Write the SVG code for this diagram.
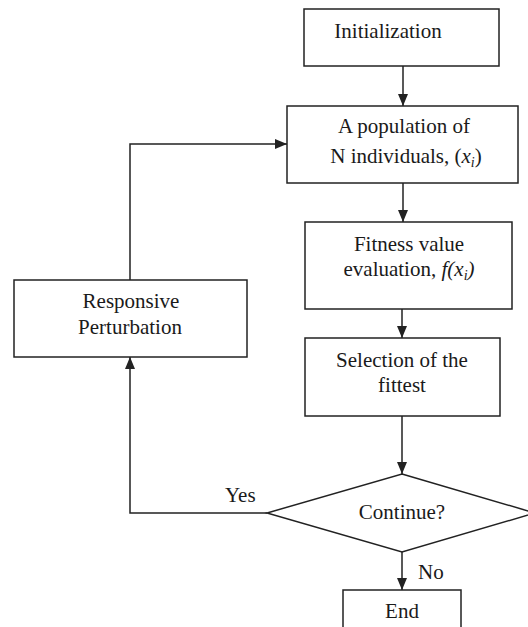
<svg xmlns="http://www.w3.org/2000/svg" width="528" height="627" viewBox="0 0 528 627">
<style>
.box{fill:#fff;stroke:#222;stroke-width:1.5}
.ln{fill:none;stroke:#222;stroke-width:1.5}
text{font-family:"Liberation Serif","Times New Roman",serif;font-size:21px;fill:#1a1a1a}
.c{text-anchor:middle}
.it{font-style:italic}
</style>
<defs>
<marker id="ah" markerUnits="userSpaceOnUse" markerWidth="12" markerHeight="10" refX="12" refY="5" orient="auto">
<path d="M0,0 L12,5 L0,10 z" fill="#222"/>
</marker>
</defs>
<g id="connectors">
<line class="ln" x1="403" y1="66" x2="403" y2="106" marker-end="url(#ah)"/>
<line class="ln" x1="403" y1="183" x2="403" y2="222" marker-end="url(#ah)"/>
<line class="ln" x1="402" y1="305" x2="402" y2="338" marker-end="url(#ah)"/>
<line class="ln" x1="402" y1="416" x2="402" y2="474" marker-end="url(#ah)"/>
<line class="ln" x1="402" y1="552" x2="402" y2="590" marker-end="url(#ah)"/>
<polyline class="ln" points="267,513 130,513 130,357" marker-end="url(#ah)"/>
<polyline class="ln" points="130,280 130,144 287,144" marker-end="url(#ah)"/>
<text x="225" y="502">Yes</text>
<text x="418" y="579">No</text>
</g>
<g id="init">
<rect class="box" x="304" y="9" width="195" height="57"/>
<text x="388" y="38" class="c">Initialization</text>
</g>
<g id="population">
<rect class="box" x="287" y="106" width="231" height="77"/>
<text x="404" y="133" class="c">A population of</text>
<text x="406" y="163" class="c">N individuals, (<tspan class="it">x</tspan><tspan class="it" font-size="14" dy="4">i</tspan><tspan dy="-4">)</tspan></text>
</g>
<g id="fitness">
<rect class="box" x="305" y="222" width="207" height="87"/>
<text x="409" y="251" class="c">Fitness value</text>
<text x="409" y="276" class="c">evaluation, <tspan class="it">f</tspan><tspan class="it">(x</tspan><tspan class="it" font-size="14" dy="4">i</tspan><tspan class="it" dy="-4">)</tspan></text>
</g>
<g id="selection">
<rect class="box" x="305" y="338" width="195" height="78"/>
<text x="402" y="367" class="c">Selection of the</text>
<text x="402" y="392" class="c">fittest</text>
</g>
<g id="perturbation">
<rect class="box" x="14" y="280" width="233" height="77"/>
<text x="131" y="308" class="c">Responsive</text>
<text x="130" y="334" class="c">Perturbation</text>
</g>
<g id="continue">
<polygon class="box" points="402,474 535,513 402,552 267,513"/>
<text x="402" y="519" class="c">Continue?</text>
</g>
<g id="end">
<rect class="box" x="343" y="590" width="118" height="60"/>
<text x="402" y="618" class="c">End</text>
</g>
</svg>
